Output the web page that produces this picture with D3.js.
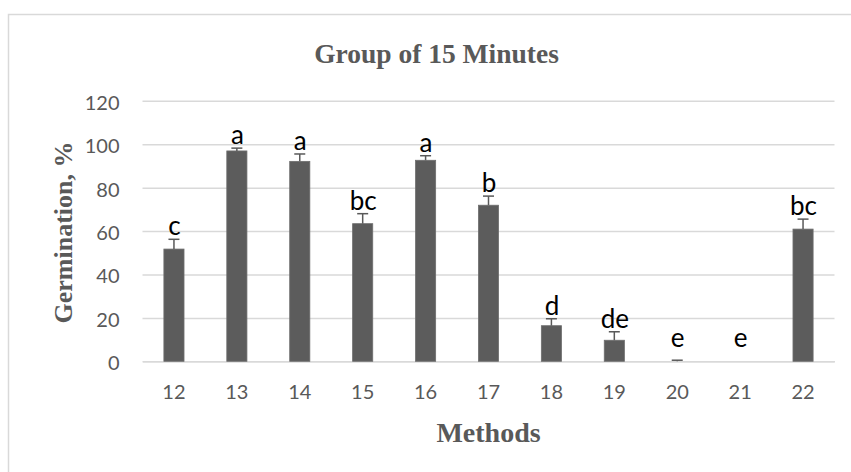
<!DOCTYPE html>
<html>
<head>
<meta charset="utf-8">
<script src="https://cdn.jsdelivr.net/npm/d3@7"></script>
<style>
  html, body { margin: 0; padding: 0; background: #fff; }
  svg { display: block; }
</style>
</head>
<body>
<svg id="chart" width="851" height="472"></svg>
<script>
// Germination (%) per method, 15-minute group
const methods = ["12", "13", "14", "15", "16", "17", "18", "19", "20", "21", "22"];
const germination = [51.7, 96.9, 92.1, 63.4, 92.6, 71.9, 16.4, 9.7, 0, 0, 60.9];
const errors = [4.5, 1.3, 3.4, 4.6, 2.1, 4.2, 3.2, 3.9, 0.5, 0, 4.6];
const letters = ["c", "a", "a", "bc", "a", "b", "d", "de", "e", "e", "bc"];
const yTicks = [0, 20, 40, 60, 80, 100, 120];

const svg = d3.select("#chart");
const grey = "#595959";
const barFill = "#5c5c5c";
const gridColor = "#d9d9d9";

// chart frame
svg.append("rect")
  .attr("x", 8.5).attr("y", 14.5)
  .attr("width", 880).attr("height", 500)
  .attr("fill", "none").attr("stroke", gridColor).attr("stroke-width", 1.5);

const x = d3.scaleBand()
  .domain(methods)
  .range([142.5, 834.5])
  .paddingInner(0.68)
  .paddingOuter(0.34);

const y = d3.scaleLinear().domain([0, 120]).range([361.3, 100.8]);

// gridlines + y tick labels
const yAxis = d3.axisLeft(y).tickValues(yTicks).tickSize(-(834.5 - 142.5)).tickPadding(23);
const gy = svg.append("g").attr("transform", "translate(142.5,0)").call(yAxis);
gy.select(".domain").remove();
gy.selectAll(".tick line").attr("stroke", gridColor).attr("stroke-width", 1.5);
gy.selectAll(".tick text")
  .attr("fill", grey)
  .attr("font-family", "Lato, 'Open Sans', sans-serif")
  .attr("font-size", 20)
  .attr("dy", "0.42em");

// category axis
const xAxis = d3.axisBottom(x).tickSize(0).tickPadding(24);
const gx = svg.append("g").attr("transform", `translate(0,${y(0)})`).call(xAxis);
gx.select(".domain").attr("stroke", gridColor).attr("stroke-width", 1.5);
gx.selectAll(".tick text")
  .attr("fill", grey)
  .attr("font-family", "Lato, 'Open Sans', sans-serif")
  .attr("font-size", 20);

const rows = methods.map((m, i) => ({ m, v: germination[i], e: errors[i], l: letters[i] }));

// bars
svg.append("g").selectAll("rect")
  .data(rows.filter(d => d.v > 0))
  .join("rect")
  .attr("x", d => x(d.m))
  .attr("y", d => y(d.v))
  .attr("width", x.bandwidth())
  .attr("height", d => y(0) - y(d.v))
  .attr("fill", barFill)
  .attr("stroke", "#6e6e6e")
  .attr("stroke-width", 0.8);

// error bars (upper)
const capHalf = 5.5;
const eb = svg.append("g").attr("stroke", grey).attr("stroke-width", 1.5).attr("fill", "none");
rows.filter(d => d.e > 0).forEach(d => {
  const cx = x(d.m) + x.bandwidth() / 2;
  eb.append("line")
    .attr("x1", cx).attr("x2", cx)
    .attr("y1", y(d.v)).attr("y2", y(d.v + d.e));
  eb.append("line")
    .attr("x1", cx - capHalf).attr("x2", cx + capHalf)
    .attr("y1", y(d.v + d.e)).attr("y2", y(d.v + d.e));
});

// significance letters
svg.append("g").selectAll("text")
  .data(rows)
  .join("text")
  .attr("x", d => x(d.m) + x.bandwidth() / 2 + 0.5)
  .attr("y", d => Math.min(y(d.v + d.e) - 4, y(0) - 14))
  .attr("text-anchor", "middle")
  .attr("font-family", "Lato, 'Open Sans', sans-serif")
  .attr("font-size", 26)
  .attr("fill", "#000")
  .text(d => d.l);

// titles
svg.append("text")
  .attr("x", 436.5).attr("y", 62.7)
  .attr("text-anchor", "middle")
  .attr("font-family", "'Liberation Serif', 'Times New Roman', serif")
  .attr("font-weight", "bold")
  .attr("font-size", 27.5)
  .attr("fill", grey)
  .text("Group of 15 Minutes");

svg.append("text")
  .attr("x", 488.5).attr("y", 441.7)
  .attr("text-anchor", "middle")
  .attr("font-family", "'Liberation Serif', 'Times New Roman', serif")
  .attr("font-weight", "bold")
  .attr("font-size", 28)
  .attr("fill", grey)
  .text("Methods");

svg.append("text")
  .attr("transform", "translate(71.5,232.5) rotate(-90)")
  .attr("text-anchor", "middle")
  .attr("font-family", "'Liberation Serif', 'Times New Roman', serif")
  .attr("font-weight", "bold")
  .attr("font-size", 26)
  .attr("fill", grey)
  .text("Germination, %");
</script>
</body>
</html>
